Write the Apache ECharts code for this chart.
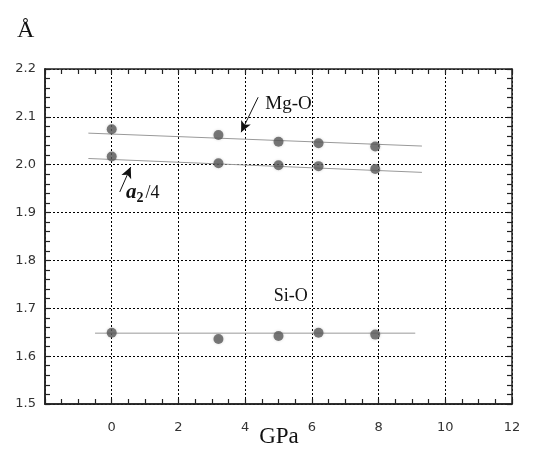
<!DOCTYPE html>
<html>
<head>
<meta charset="utf-8">
<script src="https://cdn.jsdelivr.net/npm/echarts@6/dist/echarts.min.js"></script>
<style>
  html, body { margin: 0; padding: 0; background: #fff; }
  #main { width: 554px; height: 469px; }
</style>
</head>
<body>
<div id="main"></div>
<script>
// pressure (GPa)
var pressure = [0, 3.2, 5.0, 6.2, 7.9];
// bond lengths (Å)
var mgO = [2.074, 2.062, 2.048, 2.045, 2.038];
var a2q = [2.017, 2.003, 1.999, 1.997, 1.991];
var siO = [1.649, 1.636, 1.642, 1.649, 1.645];
// fitted lines, end points
var mgOFit = [[-0.7, 2.066], [9.3, 2.039]];
var a2qFit = [[-0.7, 2.013], [9.3, 1.984]];
var siOFit = [[-0.5, 1.648], [9.1, 1.648]];
// arrows
var mgArrow = [[4.39, 2.141], [3.88, 2.068]];
var a2Arrow = [[0.24, 1.943], [0.57, 1.995]];

function pairs(xs, ys) {
  return xs.map(function (x, i) { return [x, ys[i]]; });
}

var chart = echarts.init(document.getElementById('main'));

var tickFont = { color: '#333', fontSize: 13, fontFamily: 'DejaVu Sans' };
var dark = '#222';

// main axes: labels + dotted grid
var xMain = {
  type: 'value', position: 'bottom', min: -2, max: 12, interval: 2,
  axisLine: { show: true, onZero: false, lineStyle: { color: dark, width: 1.5 } },
  axisTick: { show: false },
  splitLine: { show: true, lineStyle: { color: '#000', type: [2, 2], width: 1 } },
  axisLabel: Object.assign({ margin: 17, formatter: function (v) { return v < 0 ? '' : String(v); } }, tickFont)
};
var yMain = {
  type: 'value', position: 'left', min: 1.5, max: 2.2, interval: 0.1,
  axisLine: { show: true, onZero: false, lineStyle: { color: dark, width: 1.5 } },
  axisTick: { show: false },
  splitLine: { show: true, lineStyle: { color: '#000', type: [2, 2], width: 1 } },
  axisLabel: Object.assign({ margin: 9, formatter: function (v) { return v.toFixed(1); } }, tickFont)
};
// tick-only axes on every side
function tickAx(kind, pos) {
  var ax = {
    type: 'value', position: pos,
    axisLine: { show: true, onZero: false, lineStyle: { color: dark, width: 1.5 } },
    axisTick: { show: true, inside: true, length: 5, lineStyle: { color: dark, width: 1.2 } },
    splitLine: { show: false },
    axisLabel: { show: false }
  };
  if (kind === 'x') { ax.min = -2; ax.max = 12; ax.interval = 0.5; }
  else { ax.min = 1.5; ax.max = 2.2; ax.interval = 0.02; }
  return ax;
}

function fitLine(d) {
  return {
    type: 'line', data: d, symbol: 'none', silent: true,
    lineStyle: { color: '#999', width: 1 }, z: 2
  };
}
function dots(d) {
  return {
    type: 'scatter', data: d, symbol: 'circle', symbolSize: 10,
    itemStyle: { color: '#5a5a5a', shadowColor: 'rgba(0,0,0,0.2)', shadowBlur: 3 }, z: 3
  };
}
function arrowLine(d) {
  return [{ coord: d[0] }, { coord: d[1] }];
}

chart.setOption({
  animation: false,
  grid: { left: 45, right: 42, top: 69, bottom: 65 },
  xAxis: [xMain, tickAx('x', 'bottom'), tickAx('x', 'top')],
  yAxis: [yMain, tickAx('y', 'left'), tickAx('y', 'right')],
  series: [
    fitLine(mgOFit), fitLine(a2qFit), fitLine(siOFit),
    dots(pairs(pressure, mgO)), dots(pairs(pressure, a2q)), dots(pairs(pressure, siO)),
    {
      type: 'scatter', data: [], silent: true,
      markLine: {
        silent: true, symbol: ['none', 'arrow'], symbolSize: [8, 11],
        label: { show: false },
        lineStyle: { color: '#111', width: 1, type: 'solid' },
        data: [arrowLine(mgArrow), arrowLine(a2Arrow)]
      }
    }
  ]
});

function px(x, y) { return chart.convertToPixel({ gridIndex: 0 }, [x, y]); }
var pMg = px(5.3, 2.127), pSi = px(5.37, 1.725), pA2 = px(0.93, 1.941);

chart.setOption({
  graphic: [
    { type: 'text', left: 17, top: 19, style: { text: 'Å', font: '24px "Liberation Serif"', fill: '#111' } },
    { type: 'text', x: 279, y: 437, style: { text: 'GPa', font: '23px "Liberation Serif"', fill: '#111', align: 'center', verticalAlign: 'middle' } },
    { type: 'text', x: pMg[0], y: pMg[1], style: { text: 'Mg-O', font: '19px "Liberation Serif"', fill: '#111', align: 'center', verticalAlign: 'middle' } },
    { type: 'text', x: pSi[0], y: pSi[1], style: { text: 'Si-O', font: '18px "Liberation Serif"', fill: '#111', align: 'center', verticalAlign: 'middle' } },
    { type: 'text', x: pA2[0], y: pA2[1], style: {
        text: '{a|a}{s|2}{n|/4}', align: 'center', verticalAlign: 'middle',
        rich: {
          a: { font: 'italic bold 21px "Liberation Serif"', fill: '#111' },
          s: { font: 'bold 14px "Liberation Serif"', fill: '#111', padding: [10, 2, 0, 0] },
          n: { font: '18px "Liberation Serif"', fill: '#111' }
        }
      }
    }
  ]
});
</script>
</body>
</html>
